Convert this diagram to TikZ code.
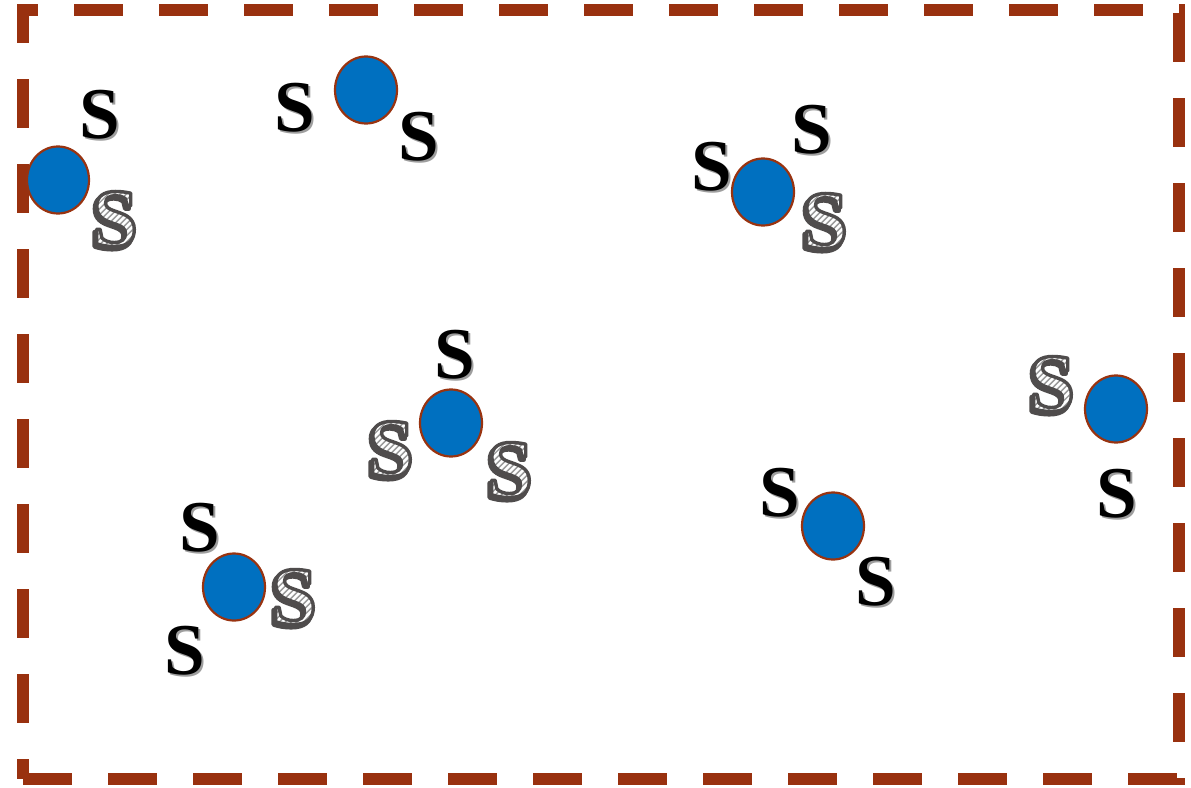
\documentclass[tikz,border=0pt]{standalone}
\usepackage{fontspec}
\usetikzlibrary{shapes.geometric}
\newfontfamily\letterfont{Liberation Serif}
\definecolor{atomblue}{HTML}{0070C0}
\definecolor{rim}{HTML}{993310}
\definecolor{frame}{HTML}{99310F}
\definecolor{sshadow}{gray}{0.62}
\definecolor{hatchline}{HTML}{4F4D4D}

% diagonal white hatching over a grey ground, in PDF operators
\makeatletter
\edef\stripecmds{0.60 0.60 0.60 rg -80 -30 110 110 re f 1 1 1 RG 2.5 w}
\@tempcnta=-150
\loop\ifnum\@tempcnta<40
  \edef\stripecmds{\stripecmds\space\the\@tempcnta\space -30 m \the\numexpr\@tempcnta+110\relax\space 80 l}
  \advance\@tempcnta 6\relax
\repeat
\edef\stripecmds{\stripecmds\space S}
\makeatother

% plain sulfur letter with a soft offset shadow
\newcommand\plainS{\smash{\rlap{\kern1.8pt\raisebox{-1.8pt}{\color{sshadow}S}}}S}
% hatched sulfur letter: dark shadow, hatched body, dark outline
\newcommand\shadeS{%
  \smash{\rlap{\kern-2pt\raisebox{-2.8pt}{\special{x:gsave}\special{pdf:code 2 Tr 4.4 w 1 j 0.31 0.30 0.30 RG 0.31 0.30 0.30 rg}S\special{x:grestore}}}}%
  \smash{\rlap{\special{x:gsave}\special{pdf:code 7 Tr}S\special{pdf:literal \stripecmds}\special{x:grestore}}}%
  \special{x:gsave}\special{pdf:code 1 Tr 3.4 w 1 j 0.31 0.30 0.30 RG}S\special{x:grestore}}

\tikzset{
  atom/.style={ellipse, draw=rim, line width=2.2pt, fill=atomblue,
    minimum width=62pt, minimum height=67pt, inner sep=0pt},
  sulf/.style={inner sep=0pt, font=\letterfont\bfseries\fontsize{73}{73}\selectfont},
  sulfhatch/.style={inner sep=0pt, font=\letterfont\bfseries\fontsize{82}{82}\selectfont},
  edge/.style={draw=frame, line width=12pt, line cap=butt},
}
\begin{document}
\begin{tikzpicture}[x=1pt, y=-1pt]
\useasboundingbox (0,0) rectangle (1191,787);
\fill[white] (0,0) rectangle (1191,787);

% dashed frame, one edge at a time
\draw[edge, dash pattern=on 49pt off 36pt, dash phase=28pt] (17,10) -- (1185,10);
\draw[edge, dash pattern=on 49pt off 36pt] (1179,13) -- (1179,785);
\draw[edge, dash pattern=on 49pt off 36pt] (23,779) -- (1185,779);
\draw[edge, dash pattern=on 49pt off 36pt, dash phase=11pt] (23,5) -- (23,779);

% group 1
\node[atom] (a1) at (58,180) {};
\node[sulf] (a1s1) at (100,115) {\plainS};
\node[sulfhatch] (a1h1) at (115,219) {\shadeS};

% group 2
\node[atom] (a2) at (366,90) {};
\node[sulf] (a2s1) at (295,108) {\plainS};
\node[sulf] (a2s2) at (419,137) {\plainS};

% group 3
\node[atom] (a3) at (763,192) {};
\node[sulf] (a3s1) at (712,167) {\plainS};
\node[sulf] (a3s2) at (812,130) {\plainS};
\node[sulfhatch] (a3h1) at (825,221) {\shadeS};

% group 4
\node[atom] (a4) at (451,423) {};
\node[sulf] (a4s1) at (455,355) {\plainS};
\node[sulfhatch] (a4h1) at (391,449) {\shadeS};
\node[sulfhatch] (a4h2) at (510,470) {\shadeS};

% group 5
\node[atom] (a5) at (1116,409) {};
\node[sulfhatch] (a5h1) at (1052,384) {\shadeS};
\node[sulf] (a5s1) at (1117,494) {\plainS};

% group 6
\node[atom] (a6) at (234,587) {};
\node[sulf] (a6s1) at (200,528) {\plainS};
\node[sulf] (a6s2) at (185,651) {\plainS};
\node[sulfhatch] (a6h1) at (294,597) {\shadeS};

% group 7
\node[atom] (a7) at (833,526) {};
\node[sulf] (a7s1) at (780,493) {\plainS};
\node[sulf] (a7s2) at (876,582) {\plainS};
\end{tikzpicture}
\end{document}
